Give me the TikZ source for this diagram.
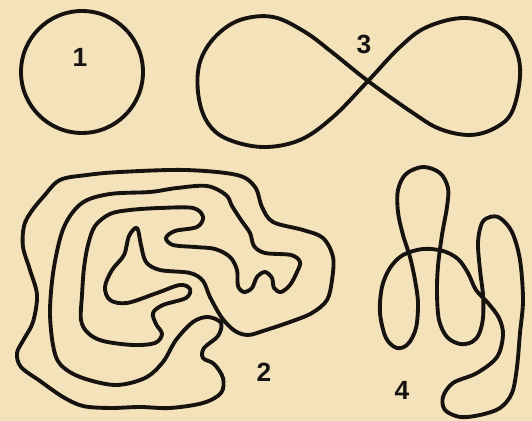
\documentclass[tikz,border=0pt]{standalone}
\usepackage{fontspec}
\setsansfont{Liberation Sans}
\definecolor{paper}{HTML}{F3E2BA}
\definecolor{ink}{HTML}{151210}

\begin{document}
\begin{tikzpicture}[x=0.02cm, y=-0.02cm,
  curve/.style={line width=2.2pt, draw=ink, line join=round},
  figlabel/.style={font=\sffamily\bfseries\fontsize{15}{18}\selectfont, text=ink, inner sep=0}]

  % Paper background
  \fill[paper] (0,0) rectangle (532,421);
  \useasboundingbox (0,0) rectangle (532,421);

  % Figure 1: circle
  \draw[curve] (82,72) circle[radius=61];
  \node[figlabel] (num1) at (80,57) {1};

  % Figure 3: figure eight
  \draw[curve] plot[smooth cycle, tension=0.6] coordinates {
    (368,81) (333,53) (305,32) (273,17) (240,20) (215,37) (200,62) (198,92)
    (206,120) (225,138) (262,147) (300,140) (333,117)
    (368,81) (400,47) (427,27) (465,18) (500,28) (516,50) (520,77) (512,112)
    (495,128) (470,135) (440,129) (413,113)};
  \node[figlabel] (num3) at (364,44) {3};

  % Figure 2: spiral curve
  \draw[curve] plot[smooth cycle, tension=0.55] coordinates {
    (60,180) (87,175) (120,172) (185,170) (237,175) (255,187) (262,207)
    (273,222) (303,230) (323,238) (333,257) (332,280) (327,300) (312,313)
    (290,322) (263,331) (248,335) (235,331) (222,318) (210,297) (203,281)
    (190,273) (160,270) (146,262) (141,245) (137,228) (129,236) (124,255)
    (112,270) (105,287) (110,300) (127,303) (157,293) (180,285) (190,289)
    (186,298) (163,305) (153,313) (156,324) (162,334) (155,343) (133,345)
    (103,341) (88,333) (81,320) (82,295) (84,268) (88,245) (95,226)
    (110,214) (130,210) (160,208) (193,208) (203,217) (197,227) (175,231)
    (166,238) (173,245) (195,247) (215,249) (230,257) (237,270) (238,286)
    (244,292) (252,288) (257,277) (265,272) (272,278) (274,288) (281,292)
    (290,285) (297,272) (300,262) (291,255) (265,253) (254,246) (250,233)
    (241,220) (232,206) (226,195) (207,186) (177,188) (150,192) (110,194)
    (82,203) (64,227) (54,267) (50,310) (53,345) (60,364) (80,377)
    (115,385) (145,378) (163,362) (176,340) (193,322) (208,317) (221,323)
    (218,336) (204,348) (203,358) (214,364) (223,378) (221,393) (203,403)
    (170,408) (140,407) (110,408) (83,406) (63,397) (40,381) (21,367)
    (17,353) (24,339) (33,322) (37,295) (30,270) (23,247) (24,226)
    (31,212) (44,196)};
  \node[figlabel] (num2) at (264,372) {2};

  % Figure 4: knotted curve
  \draw[curve] plot[smooth cycle, tension=0.55] coordinates {
    (423,167) (406,174) (398,190) (398,212) (403,235) (410,257) (415,280)
    (418,303) (416,328) (408,344) (397,348) (386,338) (380,313) (382,287)
    (390,268) (403,255) (423,249) (443,251) (458,259) (468,273) (476,290)
    (488,303) (499,318) (503,335) (497,357) (477,373) (453,383) (443,397)
    (445,410) (460,417) (480,415) (500,408) (512,393) (517,367) (520,333)
    (523,300) (520,260) (512,232) (500,218) (490,217) (482,223) (478,242)
    (480,270) (483,295) (483,318) (479,334) (472,342) (460,344) (447,337)
    (439,320) (437,293) (438,266) (442,235) (447,207) (448,188) (440,173)};
  \node[figlabel] (num4) at (402,390) {4};

\end{tikzpicture}
\end{document}
